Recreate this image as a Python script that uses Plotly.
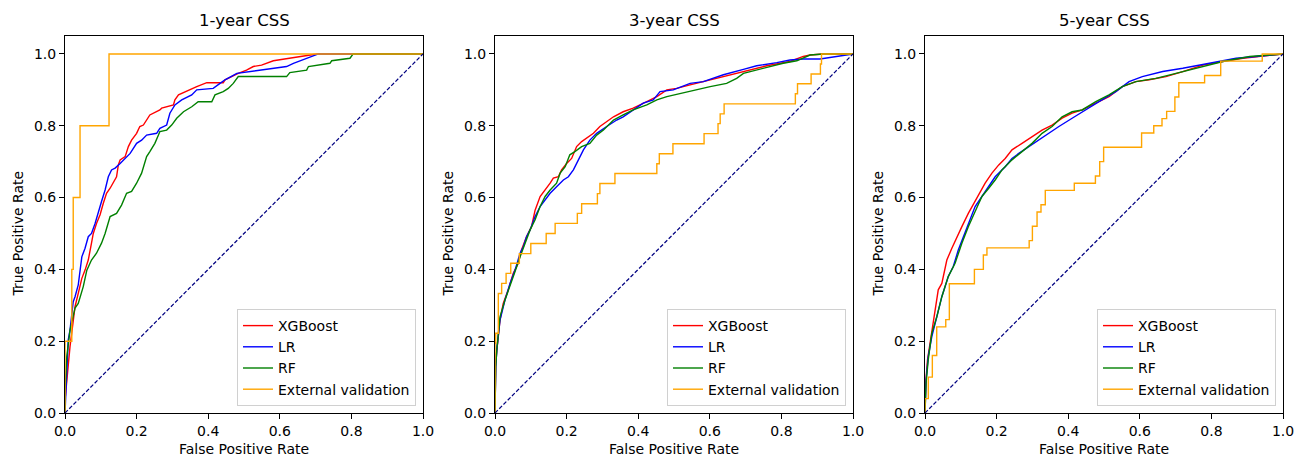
import plotly.graph_objects as go

W, H = 1300, 457

panel_titles = ["1-year CSS", "3-year CSS", "5-year CSS"]
series_names = ["XGBoost", "LR", "RF", "External validation"]
series_colors = ["red", "blue", "green", "orange"]
tick_vals = [0.0, 0.2, 0.4, 0.6, 0.8, 1.0]
tick_text = ["0.0", "0.2", "0.4", "0.6", "0.8", "1.0"]

# ---------------- 1-year ----------------
xgb1_fpr = [0, 0, 0.014, 0.019, 0.028, 0.037, 0.047, 0.056, 0.065, 0.074, 0.079, 0.088, 0.098, 0.107, 0.116, 0.126,
            0.144, 0.149, 0.154, 0.168, 0.177, 0.186, 0.2, 0.209, 0.219, 0.237, 0.265, 0.27, 0.303, 0.307, 0.317,
            0.368, 0.396, 0.442, 0.447, 0.484, 0.507, 0.526, 0.549, 0.582, 0.647, 0.703, 1.0]
xgb1_tpr = [0, 0.036, 0.185, 0.231, 0.296, 0.333, 0.375, 0.398, 0.426, 0.473, 0.5, 0.528, 0.552, 0.584, 0.612, 0.626,
            0.658, 0.691, 0.705, 0.714, 0.742, 0.76, 0.779, 0.798, 0.802, 0.83, 0.844, 0.849, 0.858, 0.872, 0.886,
            0.909, 0.92, 0.92, 0.928, 0.946, 0.955, 0.965, 0.969, 0.981, 0.991, 1.0, 1.0]
lr1_fpr = [0, 0.003, 0.009, 0.014, 0.023, 0.028, 0.037, 0.047, 0.056, 0.065, 0.074, 0.084, 0.093, 0.102, 0.112, 0.121,
           0.13, 0.14, 0.154, 0.168, 0.182, 0.2, 0.214, 0.228, 0.256, 0.265, 0.284, 0.293, 0.307, 0.326, 0.354,
           0.368, 0.414, 0.433, 0.447, 0.48, 0.563, 0.619, 0.638, 0.666, 0.684, 0.708, 1.0]
lr1_tpr = [0, 0.073, 0.203, 0.231, 0.31, 0.324, 0.357, 0.435, 0.459, 0.491, 0.5, 0.528, 0.561, 0.589, 0.621, 0.658,
           0.677, 0.682, 0.695, 0.709, 0.723, 0.751, 0.76, 0.774, 0.779, 0.793, 0.802, 0.835, 0.858, 0.872, 0.886,
           0.9, 0.904, 0.918, 0.928, 0.946, 0.957, 0.965, 0.974, 0.985, 0.991, 1.0, 1.0]
rf1_fpr = [0, 0, 0.005, 0.014, 0.028, 0.037, 0.051, 0.061, 0.074, 0.088, 0.102, 0.112, 0.126, 0.144, 0.158, 0.172,
           0.186, 0.2, 0.214, 0.228, 0.237, 0.251, 0.261, 0.265, 0.284, 0.298, 0.312, 0.331, 0.354, 0.372, 0.41,
           0.419, 0.442, 0.456, 0.47, 0.484, 0.619, 0.628, 0.675, 0.68, 0.74, 0.745, 0.796, 0.805, 1.0]
rf1_tpr = [0, 0.055, 0.157, 0.231, 0.292, 0.305, 0.352, 0.398, 0.426, 0.445, 0.473, 0.5, 0.547, 0.556, 0.579, 0.612,
           0.617, 0.64, 0.668, 0.714, 0.728, 0.751, 0.774, 0.784, 0.788, 0.802, 0.821, 0.839, 0.853, 0.867, 0.867,
           0.886, 0.895, 0.904, 0.918, 0.937, 0.937, 0.948, 0.955, 0.965, 0.974, 0.981, 0.988, 1.0, 1.0]
ext1_fpr = [0, 0, 0.019, 0.023, 0.042, 0.123, 1.0]
ext1_tpr = [0, 0.2, 0.4, 0.6, 0.8, 1.0, 1.0]

# ---------------- 3-year ----------------
xgb3_fpr = [0, 0.002, 0.005, 0.014, 0.023, 0.037, 0.051, 0.065, 0.074, 0.088, 0.102, 0.112, 0.126, 0.14, 0.154,
            0.163, 0.177, 0.186, 0.2, 0.214, 0.228, 0.242, 0.256, 0.275, 0.293, 0.312, 0.331, 0.358, 0.386, 0.424,
            0.452, 0.48, 0.507, 0.545, 0.582, 0.638, 0.694, 0.759, 0.824, 0.861, 0.88, 0.917, 1.0]
xgb3_tpr = [0, 0.138, 0.175, 0.259, 0.305, 0.343, 0.389, 0.417, 0.454, 0.491, 0.519, 0.565, 0.603, 0.621, 0.64,
            0.654, 0.658, 0.677, 0.695, 0.709, 0.742, 0.756, 0.765, 0.779, 0.798, 0.811, 0.825, 0.839, 0.849, 0.867,
            0.881, 0.9, 0.904, 0.914, 0.923, 0.937, 0.951, 0.967, 0.979, 0.993, 0.997, 1.0, 1.0]
lr3_fpr = [0, 0.002, 0.005, 0.014, 0.028, 0.042, 0.056, 0.07, 0.079, 0.088, 0.098, 0.112, 0.126, 0.14, 0.154, 0.172,
           0.191, 0.205, 0.219, 0.233, 0.247, 0.265, 0.284, 0.312, 0.34, 0.358, 0.386, 0.414, 0.442, 0.461, 0.498,
           0.545, 0.582, 0.638, 0.694, 0.731, 0.787, 0.824, 0.861, 0.908, 1.0]
lr3_tpr = [0, 0.129, 0.175, 0.259, 0.315, 0.361, 0.398, 0.445, 0.463, 0.491, 0.51, 0.547, 0.575, 0.593, 0.612, 0.63,
           0.649, 0.658, 0.677, 0.705, 0.733, 0.76, 0.779, 0.798, 0.816, 0.825, 0.844, 0.863, 0.872, 0.895, 0.9,
           0.918, 0.923, 0.942, 0.957, 0.967, 0.976, 0.983, 0.986, 0.986, 1.0]
rf3_fpr = [0, 0.002, 0.005, 0.014, 0.028, 0.042, 0.056, 0.07, 0.084, 0.098, 0.112, 0.126, 0.14, 0.154, 0.172, 0.182,
           0.196, 0.209, 0.223, 0.242, 0.265, 0.284, 0.303, 0.331, 0.358, 0.386, 0.424, 0.452, 0.48, 0.517, 0.563,
           0.601, 0.647, 0.675, 0.694, 0.75, 0.805, 0.843, 0.88, 0.917, 1.0]
rf3_tpr = [0, 0.129, 0.175, 0.268, 0.315, 0.352, 0.394, 0.435, 0.473, 0.51, 0.538, 0.575, 0.603, 0.621, 0.64, 0.668,
           0.686, 0.719, 0.728, 0.742, 0.751, 0.774, 0.788, 0.816, 0.83, 0.844, 0.858, 0.872, 0.881, 0.89, 0.9,
           0.909, 0.918, 0.932, 0.946, 0.96, 0.974, 0.981, 0.997, 1.0, 1.0]
ext3_fpr = [0, 0, 0.002, 0.0093, 0.0186, 0.031, 0.044, 0.068, 0.1, 0.143, 0.168, 0.23, 0.242, 0.286, 0.293, 0.335,
            0.452, 0.459, 0.497, 0.584, 0.623, 0.629, 0.64, 0.839, 0.845, 0.883, 0.909, 0.912, 1.0]
ext3_tpr = [0, 0.194, 0.222, 0.333, 0.361, 0.389, 0.417, 0.444, 0.472, 0.5, 0.528, 0.556, 0.583, 0.611, 0.639, 0.667,
            0.694, 0.722, 0.75, 0.778, 0.806, 0.833, 0.861, 0.889, 0.917, 0.944, 0.972, 1.0, 1.0]

# ---------------- 5-year ----------------
xgb5_fpr = [0, 0.002, 0.007, 0.014, 0.023, 0.033, 0.037, 0.047, 0.061, 0.075, 0.089, 0.103, 0.121, 0.136, 0.154,
            0.168, 0.187, 0.206, 0.224, 0.243, 0.271, 0.299, 0.327, 0.355, 0.383, 0.411, 0.439, 0.477, 0.514, 0.551,
            0.589, 0.626, 0.673, 0.72, 0.776, 0.832, 0.888, 0.944, 1.0]
xgb5_tpr = [0, 0.083, 0.148, 0.194, 0.25, 0.315, 0.343, 0.361, 0.426, 0.459, 0.487, 0.519, 0.556, 0.584, 0.617,
            0.64, 0.668, 0.691, 0.709, 0.733, 0.751, 0.77, 0.788, 0.802, 0.821, 0.835, 0.844, 0.863, 0.881, 0.909,
            0.923, 0.928, 0.937, 0.951, 0.969, 0.979, 0.988, 0.994, 1.0]
lr5_fpr = [0, 0.003, 0.009, 0.019, 0.033, 0.047, 0.065, 0.079, 0.093, 0.107, 0.121, 0.14, 0.159, 0.178, 0.196, 0.224,
           0.243, 0.262, 0.29, 0.318, 0.346, 0.374, 0.411, 0.439, 0.486, 0.533, 0.57, 0.607, 0.664, 0.72, 0.766,
           0.813, 0.869, 0.925, 1.0]
lr5_tpr = [0, 0.092, 0.157, 0.213, 0.268, 0.324, 0.38, 0.408, 0.454, 0.491, 0.528, 0.575, 0.603, 0.63, 0.658, 0.686,
           0.709, 0.723, 0.742, 0.76, 0.779, 0.798, 0.821, 0.839, 0.867, 0.895, 0.923, 0.937, 0.951, 0.96, 0.969,
           0.979, 0.988, 0.993, 1.0]
rf5_fpr = [0, 0.003, 0.009, 0.019, 0.033, 0.047, 0.065, 0.084, 0.103, 0.121, 0.14, 0.159, 0.178, 0.196, 0.215, 0.243,
           0.271, 0.299, 0.327, 0.355, 0.383, 0.411, 0.439, 0.477, 0.514, 0.551, 0.589, 0.645, 0.701, 0.757, 0.794,
           0.832, 0.907, 0.953, 1.0]
rf5_tpr = [0, 0.083, 0.148, 0.222, 0.268, 0.324, 0.38, 0.417, 0.473, 0.519, 0.561, 0.603, 0.626, 0.649, 0.677, 0.705,
           0.728, 0.751, 0.779, 0.798, 0.825, 0.839, 0.844, 0.867, 0.886, 0.909, 0.923, 0.932, 0.946, 0.96, 0.969,
           0.979, 0.993, 0.997, 1.0]
ext5_fpr = [0, 0, 0.0093, 0.0205, 0.0327, 0.058, 0.068, 0.138, 0.163, 0.173, 0.291, 0.3, 0.313, 0.324, 0.336, 0.417,
            0.476, 0.488, 0.499, 0.605, 0.639, 0.662, 0.675, 0.698, 0.709, 0.781, 0.826, 0.942, 1.0]
ext5_tpr = [0, 0.04, 0.1, 0.16, 0.24, 0.26, 0.36, 0.4, 0.44, 0.46, 0.48, 0.52, 0.56, 0.58, 0.62, 0.64,
            0.66, 0.7, 0.74, 0.78, 0.8, 0.82, 0.84, 0.88, 0.92, 0.94, 0.98, 1.0, 1.0]

panels = [
    [(xgb1_fpr, xgb1_tpr), (lr1_fpr, lr1_tpr), (rf1_fpr, rf1_tpr), (ext1_fpr, ext1_tpr)],
    [(xgb3_fpr, xgb3_tpr), (lr3_fpr, lr3_tpr), (rf3_fpr, rf3_tpr), (ext3_fpr, ext3_tpr)],
    [(xgb5_fpr, xgb5_tpr), (lr5_fpr, lr5_tpr), (rf5_fpr, rf5_tpr), (ext5_fpr, ext5_tpr)],
]

FONT = "DejaVu Sans"
FS = 14
# panel pixel geometry
px_left = [65, 495, 925]
px_w = 358
py_top, py_bot = 36, 413

fig = go.Figure()
layout = dict(
    width=W, height=H,
    margin=dict(l=0, r=0, t=0, b=0, autoexpand=False),
    paper_bgcolor="white", plot_bgcolor="white",
    font=dict(family=FONT, size=FS, color="black"),
    showlegend=True,
    annotations=[],
)

for i, curves in enumerate(panels):
    sfx = "" if i == 0 else str(i + 1)
    xa, ya = "x" + sfx, "y" + sfx
    lg = "legend" if i == 0 else "legend" + str(i + 1)
    for j, (fx, ty) in enumerate(curves):
        fig.add_trace(go.Scatter(
            x=fx, y=ty, mode="lines", name=series_names[j],
            line=dict(color=series_colors[j], width=1.4, shape="hv" if j == 3 else "linear"),
            xaxis=xa, yaxis=ya, legend=lg, hoverinfo="skip",
        ))
    fig.add_trace(go.Scatter(
        x=[0, 1], y=[0, 1], mode="lines", showlegend=False,
        line=dict(color="navy", width=1.2, dash="4px,2px"),
        xaxis=xa, yaxis=ya, hoverinfo="skip",
    ))
    x0 = px_left[i] / W
    x1 = (px_left[i] + px_w) / W
    common = dict(showline=True, linecolor="black", linewidth=1, mirror=True,
                  ticks="outside", ticklen=5, tickwidth=1, tickcolor="black",
                  showgrid=False, zeroline=False, automargin=False,
                  tickfont=dict(family=FONT, size=FS, color="black"))
    layout["xaxis" + sfx] = dict(domain=[x0, x1], range=[0, 1], anchor=ya,
                                 tickvals=tick_vals, ticktext=tick_text, **common)
    layout["yaxis" + sfx] = dict(domain=[1 - py_bot / H, 1 - py_top / H], range=[0, 1.05], anchor=xa,
                                 tickvals=tick_vals, ticktext=tick_text, **common)
    cx = (px_left[i] + px_w / 2) / W
    layout["annotations"] += [
        dict(text=panel_titles[i], x=cx, y=1 - 20 / H, xref="paper", yref="paper",
             showarrow=False, xanchor="center", yanchor="middle",
             font=dict(family=FONT, size=16.5, color="black")),
        dict(text="False Positive Rate", x=cx, y=1 - 449 / H, xref="paper", yref="paper",
             showarrow=False, xanchor="center", yanchor="middle",
             font=dict(family=FONT, size=FS, color="black")),
        dict(text="True Positive Rate", x=(px_left[i] - 47) / W, y=1 - ((py_top + py_bot) / 2 + 9) / H,
             xref="paper", yref="paper", textangle=-90,
             showarrow=False, xanchor="center", yanchor="middle",
             font=dict(family=FONT, size=FS, color="black")),
    ]
    layout[lg] = dict(
        x=(px_left[i] + px_w - 7) / W, y=1 - 406 / H, xanchor="right", yanchor="bottom",
        bgcolor="rgba(255,255,255,0.8)", bordercolor="#d0d0d0", borderwidth=1,
        font=dict(family=FONT, size=FS, color="black"),
        tracegroupgap=0, itemwidth=30,
    )

fig.update_layout(**layout)
fig.write_html("out.html")
